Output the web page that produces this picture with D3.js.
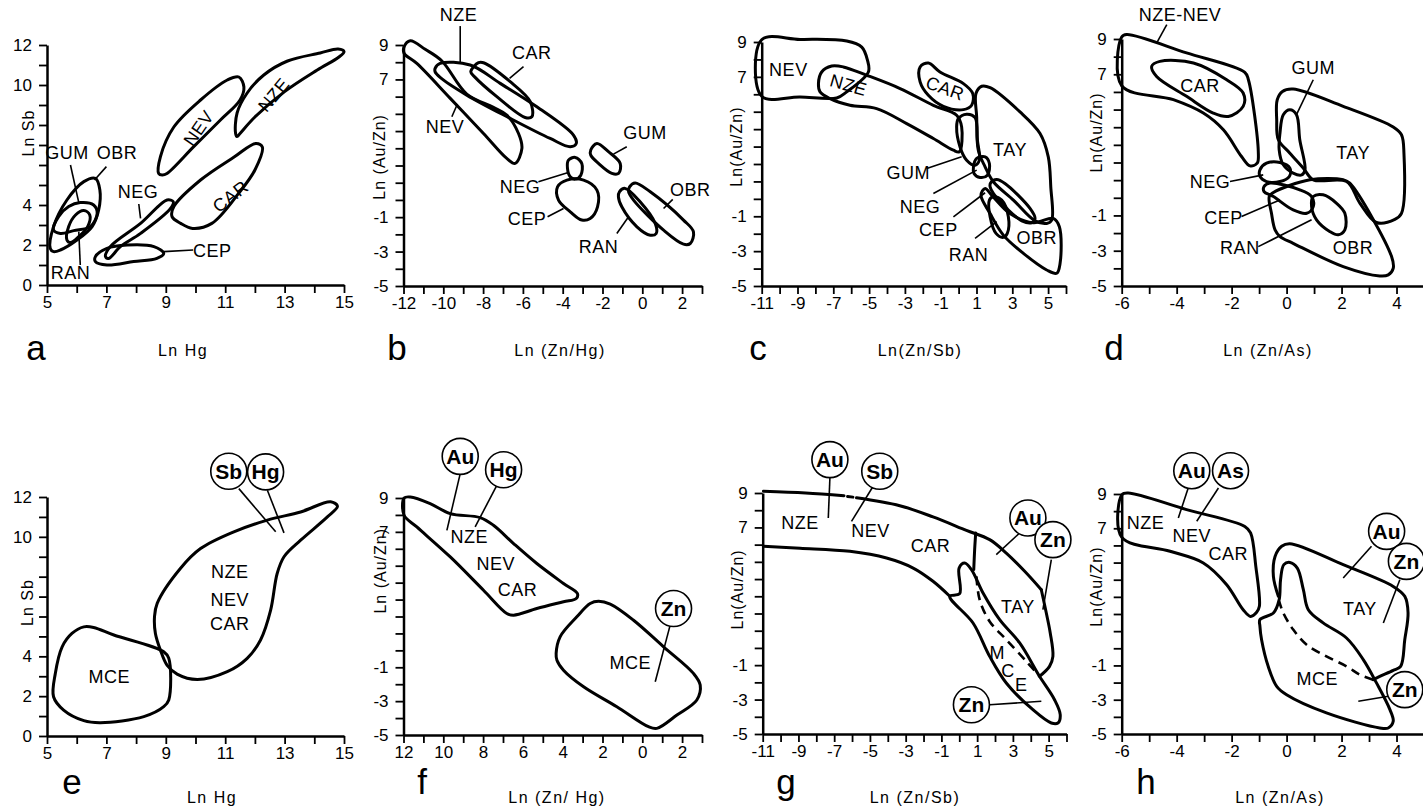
<!DOCTYPE html>
<html>
<head>
<meta charset="utf-8">
<script src="https://cdn.jsdelivr.net/npm/d3@7"></script>
<style>
  body { margin: 0; background: #fff; }
  svg { display: block; font-family: "Liberation Sans", Arial, sans-serif; }
</style>
</head>
<body>
<script>
// ---- tick labels ----
const xLabHg = [5, 7, 9, 11, 13, 15];
const yLabSb = [0, 2, 4, 10, 12];
const xLabZnHg = [-12, -10, -8, -6, -4, -2, 0, 2];
const xLabZnSb = [-11, -9, -7, -5, -3, -1, 1, 3, 5];
const xLabZnAs = [-6, -4, -2, 0, 2, 4];
const yLabAuZn = [-5, -3, -1, 7, 9];

// ---- panel a : Ln Sb vs Ln Hg ----
const shapesA = [
  ['NZE', [[11.35,7.58],[11.4,8.6],[11.74,9.6],[12.3,10.5],[13.1,11.2],[14.2,11.6],[14.8,11.8],[15,11.67],[14.83,11.4],[14.1,10.75],[13.0,9.67],[12.0,8.4],[11.5,7.58],[11.4,7.42]]],
  ['NEV', [[8.76,5.58],[8.82,6.42],[9.27,7.9],[10.17,9.25],[11.07,10.25],[11.46,10.4],[11.63,9.9],[11.5,9.25],[10.84,8.25],[9.94,6.92],[9.04,5.58],[8.88,5.5]]],
  ['CAR', [[9.21,3.42],[9.27,3.92],[10.17,5.25],[11.3,6.4],[12.03,7.08],[12.25,6.9],[12.0,5.75],[11.45,4.58],[10.55,3.08],[9.9,2.83],[9.5,3.08]]],
  ['NEG', [[6.97,1.42],[7.13,1.92],[8.15,3.08],[9.04,4.25],[9.25,4.17],[9.16,3.83],[8.15,2.58],[7.47,1.92],[7.08,1.33]]],
  ['CEP', [[6.63,1.42],[7.02,1.83],[7.7,2.0],[8.6,1.92],[8.93,1.58],[8.7,1.33],[7.92,1.17],[7.02,1.0],[6.63,1.17]]],
  ['OBR', [[5.11,1.83],[5.22,2.92],[5.67,4.25],[6.24,5.17],[6.63,5.33],[6.78,4.75],[6.74,3.75],[6.52,2.92],[6.01,2.25],[5.45,1.75],[5.22,1.67]]],
  ['GUM', [[5.22,2.75],[5.39,3.42],[5.73,3.92],[6.12,4.12],[6.57,4.0],[6.69,3.58],[6.46,2.92],[5.9,2.72],[5.45,2.58]]],
  ['RAN', [[5.67,2.25],[5.73,2.92],[5.96,3.5],[6.24,3.72],[6.44,3.5],[6.37,2.92],[6.07,2.42],[5.79,2.12]]]
];
const labelsA = [['GUM',5.67,6.58,0],['OBR',7.36,6.58,0],['NEG',8.06,4.67,0],['CEP',10.56,1.72,0],['RAN',5.79,0.58,0],['NEV',10.11,7.83,-55],['NZE',12.64,9.5,-50],['CAR',11.18,4.42,-38]];
const leadersA = [[5.79,6.0,6.07,4.12],[7.0,5.92,6.6,5.25],[8.09,4.05,8.15,3.33],[9.92,1.75,8.93,1.67],[6.12,1.0,6.07,2.67]];

// ---- panel b : Ln(Au/Zn) vs Ln(Zn/Hg) ----
const shapesB = [
  ['NEV', [[-11.97,8.9],[-11.66,9.25],[-10.91,8.75],[-10.07,8.07],[-8.82,6.15],[-7.48,5.38],[-6.81,4.93],[-6.22,3.86],[-6.05,2.99],[-6.39,2.12],[-6.81,2.41],[-7.98,3.86],[-9.65,5.9],[-11.33,7.93],[-11.97,8.52]]],
  ['NZE', [[-10.41,7.64],[-10.16,7.93],[-8.65,7.84],[-7.14,6.77],[-5.3,5.41],[-3.46,3.77],[-3.32,3.28],[-3.62,3.09],[-4.63,3.57],[-6.64,4.74],[-8.82,6.09],[-10.16,7.12],[-10.41,7.44]]],
  ['CAR', [[-8.62,7.45],[-8.23,7.97],[-7.98,7.97],[-6.64,6.87],[-5.63,5.71],[-5.55,4.83],[-5.89,4.79],[-7.31,6.0],[-8.4,7.12]]],
  ['GUM', [[-2.59,2.9],[-2.28,3.28],[-1.7,2.8],[-1.11,2.12],[-1.19,1.54],[-1.53,1.54],[-2.2,2.12],[-2.59,2.6]]],
  ['NEG', [[-3.71,2.31],[-3.37,2.47],[-3.04,2.12],[-3.09,1.44],[-3.37,1.21],[-3.62,1.34],[-3.76,1.83]]],
  ['CEP', [[-4.26,0.76],[-3.79,1.15],[-2.95,1.15],[-2.28,0.57],[-2.25,-0.4],[-2.62,-1.08],[-3.04,-1.17],[-3.62,-0.69],[-4.21,-0.01]]],
  ['RAN', [[-1.15,0.47],[-0.86,0.67],[-0.11,-0.11],[0.65,-1.37],[0.7,-1.95],[0.4,-2.05],[-0.27,-1.56],[-1.03,-0.4],[-1.2,0.18]]],
  ['OBR', [[-0.64,0.76],[-0.36,0.99],[0.4,0.47],[2.07,-1.17],[2.57,-1.85],[2.41,-2.53],[2.07,-2.57],[1.07,-1.76],[-0.44,-0.01],[-0.69,0.47]]]
];
const labelsB = [['NZE',-9.24,10.74,0],['CAR',-5.55,8.52,0],['NEV',-9.91,4.25,0],['GUM',0.14,3.86,0],['NEG',-6.14,0.76,0],['CEP',-5.8,-1.08,0],['OBR',2.41,0.57,0],['RAN',-2.2,-2.72,0]];
const leadersB = [[-9.15,10.1,-9.15,7.9],[-5.97,7.74,-6.67,7.06],[-9.57,4.83,-9.29,5.57],[-0.78,3.09,-1.45,2.66],[-5.22,1.05,-3.76,1.58],[-4.76,-0.98,-3.96,-0.5],[1.53,0.03,1.07,-0.5],[-1.28,-1.95,-0.69,-0.98]];

// ---- panel c : Ln(Au/Zn) vs Ln(Zn/Sb) ----
const shapesC = [
  ['NEV', [[-11,9.13],[-8.86,9.15],[-6.25,9.06],[-5.41,8.71],[-5.1,7.99],[-5.04,7.28],[-6.25,6.14],[-6.81,5.79],[-8.86,5.85],[-11,5.89]]],
  ['NZE', [[-7.83,6.61],[-7.65,7.28],[-7.09,7.62],[-6.44,7.57],[-5.13,7.09],[-3.27,6.33],[-1.41,5.37],[-0.11,4.8],[0.17,4.13],[0.04,2.7],[-0.29,2.79],[-1.41,3.46],[-2.9,4.32],[-4.58,5.18],[-6.07,5.37],[-7.18,5.75],[-7.74,6.14]]],
  ['CAR', [[-2.15,7.57],[-1.69,7.8],[-1.04,7.28],[0.27,6.61],[0.79,6.04],[0.73,5.37],[0.27,5.12],[-0.85,5.31],[-1.69,5.94],[-2.15,6.71]]],
  ['TAY', [[0.97,6.04],[1.29,6.46],[1.76,6.38],[3.43,4.99],[4.55,3.75],[5.01,2.41],[5.15,0.69],[5.2,-1.22],[4.92,-1.41],[4.27,-1.26],[3.06,-0.07],[1.94,0.98],[1.48,1.84],[1.1,2.79],[1.01,4.7]]],
  ['GUM', [[-0.01,4.61],[0.45,4.86],[0.92,4.66],[1.05,3.37],[1.16,2.22],[0.92,1.93],[0.45,2.22],[0.08,2.98],[-0.11,4.13]]],
  ['NEG', [[0.83,1.84],[1.01,2.32],[1.48,2.41],[1.72,2.03],[1.61,1.36],[1.2,1.23],[0.86,1.46]]],
  ['CEP', [[1.79,0.92],[2.13,1.11],[2.59,0.88],[3.99,-0.55],[4.27,-1.12],[4.08,-1.37],[3.53,-1.26],[2.69,-0.55],[1.94,0.31],[1.76,0.69]]],
  ['RAN', [[1.72,-0.07],[1.94,0.12],[2.41,-0.07],[2.78,-1.03],[2.72,-1.98],[2.5,-2.21],[2.09,-1.98],[1.76,-1.03]]],
  ['OBR', [[1.25,0.21],[1.48,0.6],[1.85,0.21],[2.87,-0.84],[4.18,-1.37],[5.29,-1.12],[5.63,-1.6],[5.67,-3.7],[5.48,-4.27],[4.92,-4.08],[3.62,-3.13],[2.5,-2.08],[1.76,-0.84]]]
];
const labelsC = [['NEV',-9.51,7.38,0],['NZE',-6.16,6.52,16],['CAR',-0.76,6.33,20],['TAY',2.87,2.79,0],['GUM',-2.81,1.46,0],['NEG',-2.15,-0.45,0],['CEP',-1.13,-1.79,0],['RAN',0.55,-3.22,0],['OBR',4.36,-2.27,0]];
const leadersC = [[-1.78,1.74,0.17,2.41],[-1.41,0.31,1.01,1.65],[-0.29,-1.03,1.48,0.35],[0.92,-2.27,2.13,-1.31]];

// ---- panel d : Ln(Au/Zn) vs Ln(Zn/As) ----
const shapesD = [
  ['NZE-NEV', [[-6,9.11],[-5.82,9.25],[-3.64,8.21],[-1.52,7.11],[-1.39,6.69],[-1.03,2.62],[-1.07,1.96],[-1.33,1.81],[-1.64,2.34],[-2.3,3.85],[-3.03,4.8],[-4.12,5.56],[-6,6.35]]],
  ['CAR', [[-4.91,7.45],[-4.61,7.73],[-3.39,7.64],[-2.18,6.69],[-1.58,5.94],[-1.58,5.18],[-2.12,4.61],[-2.67,4.8],[-3.64,5.75],[-4.73,6.88]]],
  ['TAY', [[-0.34,5.56],[-0.15,6.03],[0.24,6.16],[2.06,5.18],[3.88,4.01],[4.18,3.57],[4.27,2.53],[4.18,-0.88],[3.94,-1.22],[3.27,-1.4],[2.67,-0.31],[2.18,0.92],[0.97,1.02],[0.61,1.68],[0.12,2.53],[-0.3,3.29],[-0.36,4.42]]],
  ['GUM', [[-0.24,3.67],[-0.12,4.71],[0.12,4.99],[0.36,4.71],[0.48,3.29],[0.67,1.58],[0.55,1.3],[0.24,1.4],[-0.12,1.87],[-0.27,2.72]]],
  ['NEG', [[-0.97,1.58],[-0.73,1.96],[-0.24,2.0],[0.12,1.68],[0.1,1.21],[-0.24,0.92],[-0.73,0.92],[-0.97,1.21]]],
  ['CEP', [[-0.82,0.64],[-0.61,0.83],[0.48,0.45],[0.91,0.07],[0.97,-0.5],[0.73,-0.88],[0.24,-0.69],[-0.48,0.07],[-0.82,0.35]]],
  ['RAN', [[0.97,0.07],[1.33,0.17],[1.82,-0.31],[2.12,-0.88],[2.12,-1.82],[1.88,-2.1],[1.58,-1.92],[1.09,-1.25],[0.91,-0.5]]],
  ['OBR', [[-0.63,0.07],[-0.48,0.3],[0.85,1.02],[2.06,1.02],[2.3,0.83],[3.82,-3.33],[3.88,-4.0],[3.7,-4.37],[3.39,-4.43],[2.06,-3.9],[0.24,-2.58],[-0.24,-2.2],[-0.42,-1.82],[-0.55,-0.88]]]
];
const labelsD = [['NZE-NEV',-3.88,10.38,0],['CAR',-3.15,6.31,0],['GUM',0.97,7.35,0],['TAY',2.42,2.53,0],['NEG',-2.79,0.92,0],['CEP',-2.3,-1.16,0],['RAN',-1.7,-2.86,0],['OBR',2.42,-2.86,0]];
const leadersD = [[-4.36,9.81,-4.73,8.77],[0.97,6.69,0.36,4.71],[-2.06,0.92,-0.85,1.3],[-1.64,-1.06,-0.24,-0.12],[-1.03,-2.77,0.91,-1.25]];

// ---- panel e ----
const shapesE = [
  ['MCE', [[5.22,1.97],[5.28,3.14],[5.51,4.48],[5.84,5.15],[6.24,5.48],[6.57,5.45],[7.25,5.07],[8.93,4.23],[9.1,3.9],[9.1,1.81],[8.93,1.47],[8.26,0.97],[6.8,0.67],[6.24,0.77],[5.56,1.3]]],
  ['NZE-NEV-CAR', [[8.62,5.99],[8.71,6.66],[9.49,8.41],[10.17,9.41],[11.29,10.25],[12.42,10.84],[13.54,11.25],[14.55,11.76],[14.78,11.54],[14.44,11.0],[13.54,9.83],[12.98,9.0],[12.75,8.16],[12.53,6.32],[12.19,4.82],[11.74,3.9],[11.07,3.23],[10.06,2.84],[9.38,3.11],[9.04,3.56],[8.82,4.31],[8.65,5.15]]]
];
const labelsE = [['NZE',11.15,8.24,0],['NEV',11.15,6.82,0],['CAR',11.15,5.62,0],['MCE',7.1,2.98,0]];
const leadersE = [[11.46,12.42,12.7,10.25],[12.42,12.34,12.98,10.2]];
const bubblesE = [['Sb',11.12,13.29],['Hg',12.36,13.26]];

// ---- panel f ----
const shapesF = [
  ['NZE-NEV-CAR', [[-11.97,9.0],[-11.66,9.06],[-10.66,8.67],[-9.65,8.08],[-8.15,7.84],[-7.48,7.39],[-6.47,6.31],[-5.3,5.13],[-3.96,3.95],[-3.26,3.36],[-3.32,3.06],[-3.96,2.87],[-5.3,2.47],[-6.47,2.08],[-6.81,2.18],[-7.98,3.55],[-9.65,5.52],[-11.33,7.29],[-11.97,7.98]]],
  ['MCE', [[-4.33,-0.18],[-4.13,0.8],[-3.29,1.98],[-2.62,2.77],[-2.2,2.9],[-1.61,2.73],[-0.44,1.78],[1.07,0.21],[2.57,-1.36],[2.91,-2.05],[2.74,-2.93],[1.74,-3.82],[0.73,-4.61],[0.31,-4.51],[-1.28,-3.33],[-2.95,-2.15],[-3.96,-1.17],[-4.29,-0.58]]]
];
const labelsF = [['NZE',-8.7,6.7,0],['NEV',-7.36,5.13,0],['CAR',-6.27,3.55,0],['MCE',-0.61,-0.77,0]];
const leadersF = [[-9.15,10.44,-9.82,7.09],[-7.31,9.75,-8.4,7.29],[1.4,1.49,0.65,-1.85]];
const bubblesF = [['Au',-9.15,11.46],['Hg',-6.97,10.67],['Zn',1.57,2.47]];

// ---- panel g ----
const shapesG = [
  ['MCE', [[-0.53,3.0],[0.02,3.15],[-0.01,4.64],[0.3,4.93],[0.68,4.55],[1.33,3.19],[2.26,1.64],[3.38,0.29],[4.49,-1.65],[5.33,-3.01],[5.65,-3.88],[5.52,-4.36],[5.15,-4.36],[4.12,-3.59],[2.63,-2.04],[1.7,-0.49],[0.77,1.45]]]
];
const linesG = [
  [[-10.96,9.1],[-8.6,9.0],[-6.45,8.84]],
  [[-6.25,8.8],[-5.95,8.76]],
  [[-5.75,8.72],[-3.33,8.26],[-1.47,7.61],[0.4,6.83],[1.7,6.29],[2.63,5.51],[3.66,4.45],[4.59,3.38]],
  [[4.59,3.38],[4.87,2.03],[5.09,0.87],[5.24,-0.49],[5.05,-1.07],[4.49,-1.65]],
  [[0.92,6.68],[0.86,5.71],[0.81,4.55]],
  [[-10.96,5.9],[-8.91,5.79],[-6.12,5.61],[-4.07,5.22],[-2.58,4.64],[-1.47,3.87],[-0.53,3.0]]
];
const dashedG = [[[0.96,4.16],[1.14,2.8],[1.7,1.54],[2.63,0.48],[3.75,-0.78],[4.49,-1.65]]];
const labelsG = [['NZE',-8.91,7.26,0],['NEV',-4.97,6.77,0],['CAR',-1.61,5.9,0],['TAY',3.28,2.38,0],['M',2.13,-0.3,0],['C',2.72,-1.36,0],['E',3.47,-2.13,0]];
const leadersG = [[-7.24,9.87,-7.33,7.55],[-4.82,9.39,-6.03,7.35],[3.38,6.68,2.07,5.42],[5.15,5.13,4.68,2.22],[1.7,-3.3,4.59,-3.1]];
const bubblesG = [['Au',-7.24,10.94],['Sb',-4.45,10.26],['Au',3.84,7.55],['Zn',5.24,6.29],['Zn',0.68,-3.3]];

// ---- panel h ----
const shapesH = [
  ['NZE-NEV-CAR', [[-5.99,8.96],[-5.76,9.06],[-3.64,8.09],[-1.52,7.11],[-1.31,6.73],[-1.12,4.78],[-0.99,2.45],[-1.09,2.1],[-1.31,1.86],[-1.58,2.25],[-2.18,3.71],[-3.03,4.98],[-4.24,5.66],[-6,6.49]]],
  ['MCE', [[-0.97,1.67],[-0.48,2.06],[-0.27,2.84],[-0.22,4.0],[-0.1,4.88],[0.12,5.01],[0.39,4.68],[0.61,3.42],[0.79,2.25],[1.33,1.48],[2.18,0.6],[2.79,-0.66],[3.27,-2.02],[3.76,-3.58],[3.88,-4.26],[3.7,-4.65],[3.39,-4.65],[1.45,-3.77],[0.0,-2.71],[-0.36,-2.22],[-0.67,-1.05],[-0.91,0.5],[-0.97,1.28]]]
];
const linesH = [
  [[-0.3,3.03],[-0.48,4.2],[-0.42,5.36],[-0.18,5.95],[0.12,6.1],[2.06,4.88],[3.88,3.61],[4.3,3.03],[4.42,2.06],[4.3,0.5],[4.15,-1.05],[3.88,-1.29],[3.39,-1.64],[3.15,-1.83]]
];
const dashedH = [[[3.15,-1.83],[2.67,-1.54],[2.18,-1.05],[1.45,-0.47],[0.73,0.21],[0.24,1.09],[-0.12,2.06],[-0.27,2.74]]];
const labelsH = [['NZE',-5.13,7.31,0],['NEV',-3.45,6.53,0],['CAR',-2.12,5.52,0],['TAY',2.67,2.29,0],['MCE',1.12,-1.79,0]];
const leadersH = [[-3.58,9.35,-3.94,7.6],[-2.48,9.35,-3.27,7.41],[3.09,5.95,2.06,4.1],[4.12,4.0,3.52,1.48],[3.7,-2.8,2.61,-3.09]];
const bubblesH = [['Au',-3.45,10.36],['As',-2.04,10.36],['Au',3.64,6.82],['Zn',4.36,5.07],['Zn',4.3,-2.41]];

// ---- layout ----
const svg = d3.select('body').append('svg')
  .attr('width', 1423)
  .attr('height', 807);

const panels = [
  {xd:[5,15], yd:[0,12], xr:[47,344], yr:[285,45], xl:xLabHg, yl:yLabSb, yTitle:'Ln Sb', yTitleAt:7.6, yTitleDx:-19, xTitle:'Ln  Hg', tx:183, ty:356, letter:'a', lx:36, ly:360, shapes:shapesA, labels:labelsA, leaders:leadersA},
  {xd:[-12,3], yd:[-5,9], xr:[403.5,702], yr:[286,45], xl:xLabZnHg, yl:yLabAuZn, yTitle:'Ln (Au/Zn)', yTitleAt:2.5, yTitleDx:-24, xTitle:'Ln (Zn/Hg)', tx:560, ty:356, letter:'b', lx:397, ly:360, shapes:shapesB, labels:labelsB, leaders:leadersB},
  {xd:[-11,6], yd:[-5,9], xr:[761.7,1066], yr:[286,42], xl:xLabZnSb, yl:yLabAuZn, yTitle:'Ln(Au/Zn)', yTitleAt:3.0, yTitleDx:-25, xTitle:'Ln(Zn/Sb)', tx:920, ty:356, letter:'c', lx:758, ly:360, shapes:shapesC, labels:labelsC, leaders:leadersC},
  {xd:[-6,5], yd:[-5,9], xr:[1121.7,1424], yr:[286,39], xl:xLabZnAs, yl:yLabAuZn, yTitle:'Ln(Au/Zn)', yTitleAt:3.7, yTitleDx:-25, xTitle:'Ln (Zn/As)', tx:1268, ty:356, letter:'d', lx:1114, ly:360, shapes:shapesD, labels:labelsD, leaders:leadersD},
  {xd:[5,15], yd:[0,12], xr:[47,344], yr:[736,497], xl:xLabHg, yl:yLabSb, yTitle:'Ln Sb', yTitleAt:6.7, yTitleDx:-20, xTitle:'Ln  Hg', tx:212, ty:803, letter:'e', lx:72, ly:794, shapes:shapesE, labels:labelsE, leaders:leadersE, bubbles:bubblesE},
  {xd:[-12,3], yd:[-5,9], xr:[403.5,702], yr:[735,498], xl:xLabZnHg, xfmt:d => String(Math.abs(d)), yl:yLabAuZn, yTitle:'Ln (Au/Zn)', yTitleAt:4.7, yTitleDx:-23, xTitle:'Ln (Zn/ Hg)', tx:557, ty:803, letter:'f', lx:422, ly:794, shapes:shapesF, labels:labelsF, leaders:leadersF, bubbles:bubblesF},
  {xd:[-11,6], yd:[-5,9], xr:[762.7,1066.5], yr:[734,493], xl:xLabZnSb, yl:yLabAuZn, yTitle:'Ln(Au/Zn)', yTitleAt:3.4, yTitleDx:-25, xTitle:'Ln (Zn/Sb)', tx:915, ty:803, letter:'g', lx:786, ly:794, shapes:shapesG, lines:linesG, dashed:dashedG, labels:labelsG, leaders:leadersG, bubbles:bubblesG},
  {xd:[-6,5], yd:[-5,9], xr:[1121.7,1424], yr:[734,494], xl:xLabZnAs, yl:yLabAuZn, yTitle:'Ln(Au/Zn)', yTitleAt:3.6, yTitleDx:-25, xTitle:'Ln (Zn/As)', tx:1280, ty:803, letter:'h', lx:1146, ly:794, shapes:shapesH, lines:linesH, dashed:dashedH, labels:labelsH, leaders:leadersH, bubbles:bubblesH}
];

panels.forEach(drawPanel);

function drawPanel(p) {
  const g = svg.append('g');
  const x = d3.scaleLinear().domain(p.xd).range(p.xr);
  const y = d3.scaleLinear().domain(p.yd).range(p.yr);
  const fmt = p.xfmt || (d => String(d));

  // axes
  const xAxis = d3.axisBottom(x)
    .tickValues(d3.range(p.xd[0], p.xd[1] + 1))
    .tickSize(8).tickSizeOuter(0).tickPadding(3)
    .tickFormat(d => p.xl.includes(d) ? fmt(d) : '');
  const yAxis = d3.axisLeft(y)
    .tickValues(d3.range(p.yd[0], p.yd[1] + 1))
    .tickSize(8).tickSizeOuter(0).tickPadding(7)
    .tickFormat(d => p.yl.includes(d) ? String(d) : '');

  const gx = g.append('g').attr('transform', `translate(0,${p.yr[0]})`).call(xAxis);
  const gy = g.append('g').attr('transform', `translate(${p.xr[0]},0)`).call(yAxis);
  [gx, gy].forEach(a => {
    a.select('.domain').attr('stroke', '#000').attr('stroke-width', 2.5);
    a.selectAll('.tick line').attr('stroke', '#000').attr('stroke-width', 1.8);
    a.selectAll('.tick text').attr('fill', '#000').style('font-size', '17px')
      .style('font-family', '"Liberation Sans", Arial, sans-serif');
  });

  // axis titles and panel letter
  g.append('text')
    .attr('transform', `translate(${p.xr[0] + p.yTitleDx},${y(p.yTitleAt)}) rotate(-90)`)
    .attr('text-anchor', 'middle').attr('dominant-baseline', 'central')
    .style('font-size', '16px').style('letter-spacing', '1px')
    .text(p.yTitle);
  g.append('text')
    .attr('x', p.tx).attr('y', p.ty)
    .attr('text-anchor', 'middle')
    .style('font-size', '16px').style('letter-spacing', '1.5px')
    .text(p.xTitle);
  g.append('text')
    .attr('x', p.lx).attr('y', p.ly)
    .attr('text-anchor', 'middle')
    .style('font-size', '35px')
    .text(p.letter);

  // outlines
  const closed = d3.line().x(d => x(d[0])).y(d => y(d[1]))
    .curve(d3.curveCatmullRomClosed.alpha(0.5));
  const open = d3.line().x(d => x(d[0])).y(d => y(d[1]))
    .curve(d3.curveCatmullRom.alpha(0.5));

  g.selectAll('path.shape')
    .data(p.shapes).enter()
    .append('path')
    .attr('class', 'shape')
    .attr('d', d => closed(d[1]))
    .attr('fill', 'none').attr('stroke', '#000')
    .attr('stroke-width', 3).attr('stroke-linejoin', 'round');

  g.selectAll('path.edge')
    .data(p.lines || []).enter()
    .append('path')
    .attr('class', 'edge')
    .attr('d', d => open(d))
    .attr('fill', 'none').attr('stroke', '#000')
    .attr('stroke-width', 3).attr('stroke-linecap', 'round');

  g.selectAll('path.dash')
    .data(p.dashed || []).enter()
    .append('path')
    .attr('class', 'dash')
    .attr('d', d => open(d))
    .attr('fill', 'none').attr('stroke', '#000')
    .attr('stroke-width', 2.6).attr('stroke-dasharray', '9,6');

  // leader lines
  g.selectAll('line.leader')
    .data(p.leaders).enter()
    .append('line')
    .attr('x1', d => x(d[0])).attr('y1', d => y(d[1]))
    .attr('x2', d => x(d[2])).attr('y2', d => y(d[3]))
    .attr('stroke', '#000').attr('stroke-width', 1.6);

  // region labels
  g.selectAll('text.lab')
    .data(p.labels).enter()
    .append('text')
    .attr('class', 'lab')
    .attr('transform', d => `translate(${x(d[1])},${y(d[2])}) rotate(${d[3]})`)
    .attr('text-anchor', 'middle').attr('dominant-baseline', 'central')
    .style('font-size', '18px').style('letter-spacing', '0.5px')
    .text(d => d[0]);

  // element bubbles
  const b = g.selectAll('g.bub')
    .data(p.bubbles || []).enter()
    .append('g')
    .attr('transform', d => `translate(${x(d[1])},${y(d[2])})`);
  b.append('circle').attr('r', 18)
    .attr('fill', '#fff').attr('stroke', '#000').attr('stroke-width', 1.6);
  b.append('text')
    .attr('text-anchor', 'middle').attr('dominant-baseline', 'central')
    .style('font-size', '21px').style('font-weight', 'bold')
    .text(d => d[0]);
}
</script>
</body>
</html>
